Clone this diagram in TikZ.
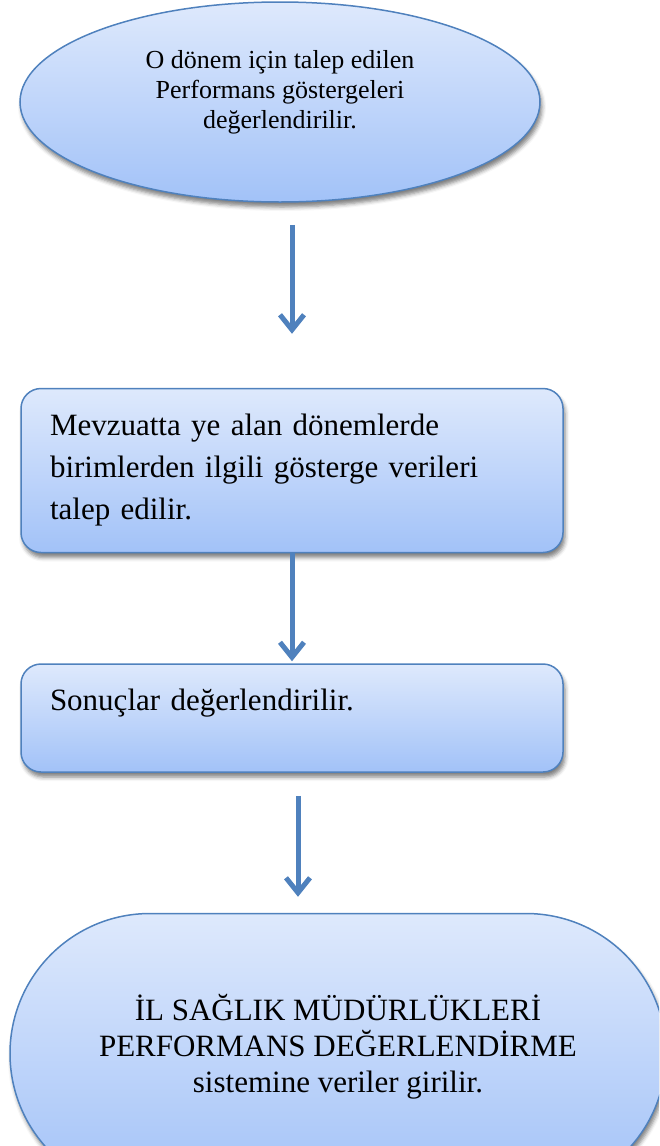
\documentclass[tikz,border=0pt]{standalone}
\usepackage{fontspec}
\setmainfont{Liberation Serif}
\usepackage{xcolor}
\usepackage{tikz}
\usetikzlibrary{shapes,arrows.meta,positioning,shadows.blur}

\definecolor{lineblue}{RGB}{79,129,189}
\definecolor{topblue}{RGB}{222,233,252}
\definecolor{botblue}{RGB}{162,194,248}

\begin{document}
\begin{tikzpicture}[
    x=1pt, y=1pt,
    shade/.style={top color=topblue, bottom color=botblue, draw=lineblue, line width=1.5pt,
        blur shadow={shadow xshift=2pt, shadow yshift=-5pt, shadow blur radius=4pt, shadow opacity=50}},
    oval/.style={ellipse, shade, minimum width=520pt, minimum height=200pt, align=center, font=\fontsize{26}{30}\selectfont},
    box/.style={rectangle, shade, rounded corners=20pt, text width=484pt, inner xsep=29pt, minimum height=164pt, align=left, font=\fontsize{31}{42}\selectfont},
    terminal/.style={rectangle, shade, rounded corners=140pt, minimum width=656pt, minimum height=280pt, align=center, font=\fontsize{31}{36}\selectfont},
    arrow/.style={-{Straight Barb[length=15pt,width=24pt]}, line width=5pt, lineblue},
]
    \useasboundingbox (0,0) rectangle (659,-1146);
    \clip (0,0) rectangle (659,-1146);

    % Start (ellipse)
    \node[oval] (ell) at (280,-102) {O dönem için talep edilen\\Performans göstergeleri\\değerlendirilir.\\[-4pt]\mbox{}};

    % Process boxes
    \node[box, below=185pt of ell, xshift=12pt] (ask) {Mevzuatta ye alan dönemlerde\\birimlerden ilgili gösterge verileri\\talep edilir.};
    \node[box, below=110pt of ask, minimum height=108pt, text height=46pt, text depth=62pt, inner ysep=0pt] (eval) {Sonuçlar değerlendirilir.};

    % End (terminator)
    \node[terminal, below=140pt of eval, xshift=46pt] (enter) {İL SAĞLIK MÜDÜRLÜKLERİ\\PERFORMANS DEĞERLENDİRME\\sistemine veriler girilir.\\[-16pt]\mbox{}};

    % Arrows
    \draw[arrow, shorten <=22pt, shorten >=54pt] (ell.south -| ask.north) -- (ask.north);
    \draw[arrow, shorten >=2pt] (ask.south) -- (eval.north);
    \draw[arrow, shorten <=23pt, shorten >=16pt] ([xshift=6pt]eval.south) -- ([xshift=6pt]eval.south |- enter.north);
\end{tikzpicture}
\end{document}
